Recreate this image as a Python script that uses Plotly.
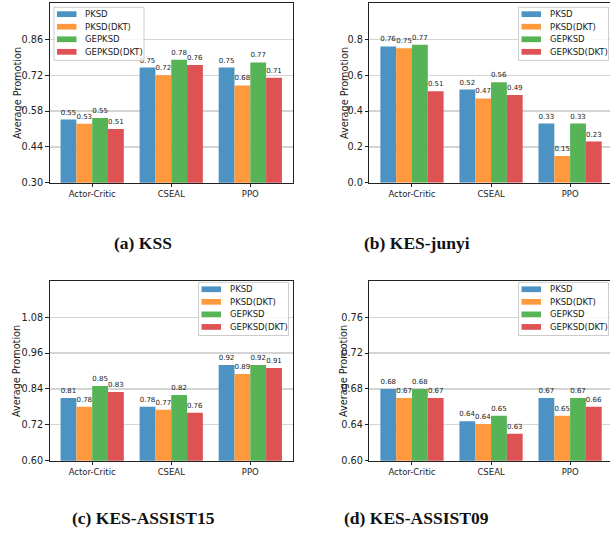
import plotly.graph_objects as go

# ---------------- data ----------------
categories = ["Actor-Critic", "CSEAL", "PPO"]
series_names = ["PKSD", "PKSD(DKT)", "GEPKSD", "GEPKSD(DKT)"]

# values per series for each category
kss_pksd = [0.547, 0.75, 0.75]
kss_pksd_dkt = [0.53, 0.72, 0.68]
kss_gepksd = [0.553, 0.78, 0.77]
kss_gepksd_dkt = [0.51, 0.76, 0.71]

junyi_pksd = [0.76, 0.52, 0.33]
junyi_pksd_dkt = [0.75, 0.47, 0.15]
junyi_gepksd = [0.77, 0.56, 0.33]
junyi_gepksd_dkt = [0.51, 0.49, 0.23]

a15_pksd = [0.81, 0.78, 0.92]
a15_pksd_dkt = [0.78, 0.77, 0.89]
a15_gepksd = [0.85, 0.82, 0.92]
a15_gepksd_dkt = [0.83, 0.76, 0.91]

a09_pksd = [0.68, 0.644, 0.67]
a09_pksd_dkt = [0.67, 0.641, 0.65]
a09_gepksd = [0.68, 0.65, 0.67]
a09_gepksd_dkt = [0.67, 0.63, 0.66]

kss_yticks = [0.30, 0.44, 0.58, 0.72, 0.86]
junyi_yticks = [0.0, 0.2, 0.4, 0.6, 0.8]
a15_yticks = [0.60, 0.72, 0.84, 0.96, 1.08]
a09_yticks = [0.60, 0.64, 0.68, 0.72, 0.76]

captions = ["(a) KSS", "(b) KES-junyi", "(c) KES-ASSIST15", "(d) KES-ASSIST09"]
y_title = "Average Promotion"

# ---------------- styling / layout ----------------
colors = ["#4c92c3", "#ff993e", "#56b356", "#de5253"]
W, H = 610, 534
SANS = "DejaVu Sans"
SERIF = "Liberation Serif"
INK = "#222222"


def px(x):
    return x / W


def py(y):
    return 1 - y / H


UNIT = (293 - 49.5) / 3.08  # pixels per category unit

panels = [
    dict(series=[kss_pksd, kss_pksd_dkt, kss_gepksd, kss_gepksd_dkt],
         yticks=kss_yticks, yrange=[0.30, 1.00], fmt="%.2f",
         box=(49.5, 3.5, 293.0, 184.5), right_cut=False,
         legend=(54.0, 7.3), ytitle_x=17, caption=(143, 245)),
    dict(series=[junyi_pksd, junyi_pksd_dkt, junyi_gepksd, junyi_gepksd_dkt],
         yticks=junyi_yticks, yrange=[0.0, 1.0], fmt="%.1f",
         box=(369.3, 3.5, 610.0, 184.5), right_cut=True,
         legend=(518.5, 7.3), ytitle_x=344, caption=(417, 245)),
    dict(series=[a15_pksd, a15_pksd_dkt, a15_gepksd, a15_gepksd_dkt],
         yticks=a15_yticks, yrange=[0.60, 1.20], fmt="%.2f",
         box=(49.5, 284.0, 293.0, 465.0), right_cut=False,
         legend=(198.5, 285.0), ytitle_x=17, caption=(143, 523)),
    dict(series=[a09_pksd, a09_pksd_dkt, a09_gepksd, a09_gepksd_dkt],
         yticks=a09_yticks, yrange=[0.60, 0.80], fmt="%.2f",
         box=(369.3, 284.0, 610.0, 465.0), right_cut=True,
         legend=(518.5, 285.0), ytitle_x=344, caption=(416, 523)),
]

fig = go.Figure()
shapes = []
annotations = []
layout_axes = {}

for i, p in enumerate(panels, start=1):
    xa = "x" if i == 1 else f"x{i}"
    ya = "y" if i == 1 else f"y{i}"
    x0, y0, x1, y1 = p["box"]
    for name, vals, col in zip(series_names, p["series"], colors):
        fig.add_trace(go.Bar(
            x=categories, y=vals, name=name, xaxis=xa, yaxis=ya,
            marker=dict(color=col, line=dict(width=0)),
            texttemplate="%{y:.2f}", textposition="outside",
            textfont=dict(family=SANS, size=7, color=INK),
            constraintext="none", cliponaxis=False, showlegend=False,
            offsetgroup=name,
        ))
    xmax = -0.54 + (x1 - x0) / UNIT
    layout_axes["xaxis" if i == 1 else f"xaxis{i}"] = dict(
        domain=[px(x0), px(x1)], anchor=ya, range=[-0.54, xmax],
        type="category", showline=True, linecolor=INK, linewidth=1,
        mirror=True, ticks="outside", ticklen=3.5, tickcolor=INK, tickwidth=1,
        tickfont=dict(family=SANS, size=8.5, color=INK), showgrid=False,
        zeroline=False, fixedrange=True,
    )
    layout_axes["yaxis" if i == 1 else f"yaxis{i}"] = dict(
        domain=[py(y1), py(y0)], anchor=xa, range=p["yrange"],
        tickvals=p["yticks"], ticktext=[p["fmt"] % t for t in p["yticks"]],
        showline=True, linecolor=INK, linewidth=1,
        mirror=not p["right_cut"], ticks="outside", ticklen=3.5,
        tickcolor=INK, tickwidth=1,
        tickfont=dict(family=SANS, size=9.7, color=INK),
        showgrid=True, gridcolor="#d4d4d4", gridwidth=1.3,
        zeroline=False, fixedrange=True,
    )
    # y-axis title
    annotations.append(dict(
        text=y_title, xref="paper", yref="paper",
        x=px(p["ytitle_x"]), y=py((y0 + y1) / 2), xanchor="center",
        yanchor="middle", textangle=-90, showarrow=False,
        font=dict(family=SANS, size=9.7, color=INK)))
    # caption
    cx, cy = p["caption"]
    annotations.append(dict(
        text="<b>" + captions[i - 1] + "</b>", xref="paper", yref="paper",
        x=px(cx), y=py(cy), xanchor="center", yanchor="middle",
        showarrow=False, font=dict(family=SERIF, size=17.5, color="#111111")))
    # legend (drawn like matplotlib's: wide patches, tight rows)
    lx, ly = p["legend"]
    lw, lh = 90.0, 53.7
    shapes.append(dict(
        type="rect", xref="paper", yref="paper", layer="above",
        x0=px(lx), x1=px(lx + lw), y0=py(ly + lh), y1=py(ly),
        line=dict(color="#cccccc", width=1), fillcolor="rgba(255,255,255,0.8)"))
    for k, (name, col) in enumerate(zip(series_names, colors)):
        cyk = ly + 7.0 + k * 12.67
        shapes.append(dict(
            type="rect", xref="paper", yref="paper", layer="above",
            x0=px(lx + 3), x1=px(lx + 22.5), y0=py(cyk + 2.9), y1=py(cyk - 2.9),
            line=dict(width=0), fillcolor=col))
        annotations.append(dict(
            text=name, xref="paper", yref="paper", x=px(lx + 29.3), y=py(cyk),
            xanchor="left", yanchor="middle", showarrow=False,
            font=dict(family=SANS, size=8.5, color=INK)))

fig.update_layout(
    width=W, height=H, margin=dict(l=0, r=0, t=0, b=0),
    paper_bgcolor="white", plot_bgcolor="white",
    barmode="group", bargap=0.2, bargroupgap=0.0,
    showlegend=False, shapes=shapes, annotations=annotations,
    **layout_axes,
)

fig.write_html(
    "out.html",
    config={"displayModeBar": False, "staticPlot": True},
    post_script="document.body.style.margin='0';document.body.style.overflow='hidden';",
)
